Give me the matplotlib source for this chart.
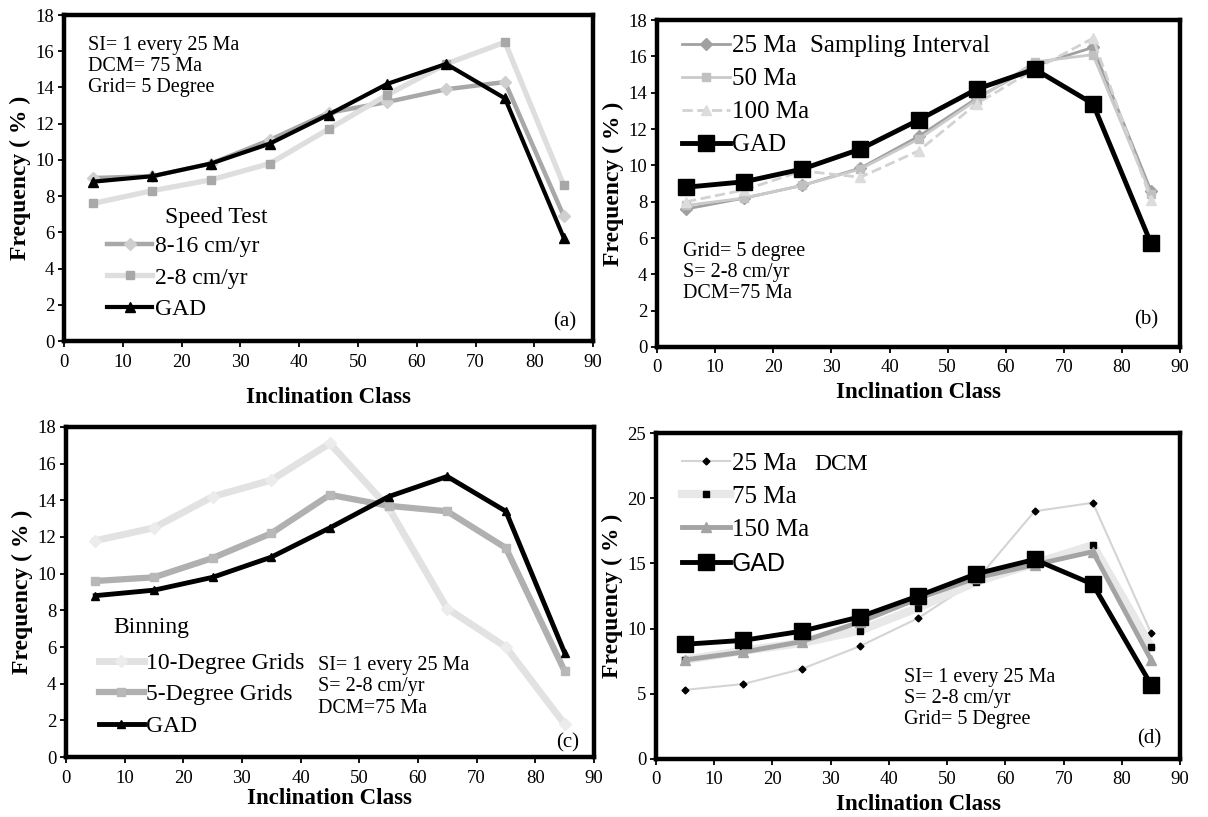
import matplotlib
matplotlib.use('Agg')
import matplotlib.pyplot as plt

plt.rcParams['font.family'] = 'serif'
plt.rcParams['font.serif'] = ['Liberation Serif', 'DejaVu Serif']

# inclination classes
x = [5, 15, 25, 35, 45, 55, 65, 75, 85]
gad = [8.8, 9.1, 9.8, 10.9, 12.5, 14.2, 15.3, 13.4, 5.7]

# (a) speed test
speed_8_16 = [9.0, 9.1, 9.8, 11.1, 12.6, 13.2, 13.9, 14.3, 6.9]
speed_2_8 = [7.6, 8.3, 8.9, 9.8, 11.7, 13.6, 15.3, 16.5, 8.6]

# (b) sampling interval
si_25 = [7.6, 8.2, 8.9, 9.85, 11.6, 13.7, 15.5, 16.5, 8.6]
si_50 = [7.8, 8.2, 8.9, 9.8, 11.45, 13.6, 15.7, 16.1, 8.4]
si_100 = [8.0, 8.65, 9.7, 9.35, 10.8, 13.4, 15.3, 17.0, 8.1]

# (c) binning
bin_10 = [11.8, 12.5, 14.2, 15.1, 17.1, 13.6, 8.1, 6.0, 1.8]
bin_5 = [9.6, 9.8, 10.85, 12.2, 14.3, 13.7, 13.4, 11.4, 4.7]

# (d) DCM
dcm_25 = [5.3, 5.75, 6.9, 8.65, 10.8, 13.7, 19.0, 19.65, 9.65]
dcm_75 = [7.6, 8.3, 8.9, 9.85, 11.6, 13.6, 15.0, 16.4, 8.6]
dcm_150 = [7.6, 8.2, 9.0, 10.5, 12.3, 13.9, 14.9, 15.9, 7.6]

fig = plt.figure(figsize=(12.08, 8.17), dpi=100)
ax_a = fig.add_axes([0.053, 0.5826, 0.438, 0.399])
ax_b = fig.add_axes([0.5439, 0.5753, 0.433, 0.400])
ax_c = fig.add_axes([0.0546, 0.0734, 0.437, 0.404])
ax_d = fig.add_axes([0.543, 0.071, 0.434, 0.399])


def style_axes(ax, ymax, ystep, xpad):
    ax.set_xlim(0, 90)
    ax.set_ylim(0, ymax)
    ax.set_xticks(range(0, 91, 10))
    ax.set_yticks(range(0, ymax + 1, ystep))
    for s in ax.spines.values():
        s.set_linewidth(3.2)
    ax.tick_params(direction='out', length=4, width=1.3, labelsize=13.5, pad=3)
    ax.tick_params(axis='x', pad=5)
    ax.set_xlabel('Inclination Class', fontsize=16.5, fontweight='bold', labelpad=xpad)
    ax.set_ylabel('Frequency ( % )', fontsize=17, fontweight='bold', labelpad=3)


def info(ax, xx, yy, lines, size=14.5):
    ax.text(xx, yy, '\n'.join(lines), transform=ax.transAxes, fontsize=size,
            va='top', ha='left', linespacing=1.15)


def legend(ax, anchor, loc, size):
    return ax.legend(loc=loc, bbox_to_anchor=anchor, frameon=False,
                     fontsize=size, handlelength=1.9, handletextpad=0.1,
                     labelspacing=0.42, borderpad=0, borderaxespad=0)


# ---- (a)
ax = ax_a
ax.plot(x, speed_8_16, color='#a8a8a8', lw=3.2, marker='D', ms=6,
        mfc='#cfcfcf', mec='#cfcfcf', label='8-16 cm/yr')
ax.plot(x, speed_2_8, color='#dedede', lw=3.8, marker='s', ms=6,
        mfc='#a8a8a8', mec='#a8a8a8', label='2-8 cm/yr')
ax.plot(x, gad, color='black', lw=3, marker='^', ms=7, label='GAD')
style_axes(ax, 18, 2, 12)
legend(ax, (0.082, 0.064), 'lower left', 17)
ax.text(0.19, 0.38, 'Speed Test', transform=ax.transAxes, fontsize=17,
        ha='left', va='center')
info(ax, 0.045, 0.935, ['SI= 1 every 25 Ma', 'DCM= 75 Ma', 'Grid= 5 Degree'])
ax.text(0.947, 0.058, '(a)', transform=ax.transAxes, fontsize=15, ha='center', va='center')

# ---- (b)
ax = ax_b
ax.plot(x, si_25, color='#a0a0a0', lw=2, marker='D', ms=6,
        mfc='#a0a0a0', mec='#a0a0a0', label='25 Ma')
ax.plot(x, si_50, color='#cacaca', lw=2, marker='s', ms=6,
        mfc='#c0c0c0', mec='#c0c0c0', label='50 Ma')
ax.plot(x, si_100, color='#d2d2d2', lw=2, ls='--', marker='^', ms=7,
        mfc='#dcdcdc', mec='#dcdcdc', label='100 Ma')
ax.plot(x, gad, color='black', lw=3.5, marker='s', ms=11, label='GAD')
style_axes(ax, 18, 2, 4)
legend(ax, (0.048, 0.955), 'upper left', 18)
ax.text(0.293, 0.922, 'Sampling Interval', transform=ax.transAxes, fontsize=18,
        ha='left', va='center')
info(ax, 0.05, 0.322, ['Grid= 5 degree', 'S= 2-8 cm/yr', 'DCM=75 Ma'])
ax.text(0.935, 0.083, '(b)', transform=ax.transAxes, fontsize=15, ha='center', va='center')

# ---- (c)
ax = ax_c
ax.plot(x, bin_10, color='#e2e2e2', lw=5, marker='D', ms=6,
        mfc='#ececec', mec='#ececec', label='10-Degree Grids')
ax.plot(x, bin_5, color='#b0b0b0', lw=4.5, marker='s', ms=6,
        mfc='#b8b8b8', mec='#b8b8b8', label='5-Degree Grids')
ax.plot(x, gad, color='black', lw=3.5, marker='^', ms=6, label='GAD')
style_axes(ax, 18, 2, 1)
legend(ax, (0.062, 0.061), 'lower left', 17)
ax.text(0.09, 0.392, 'Binning', transform=ax.transAxes, fontsize=17,
        ha='left', va='center')
info(ax, 0.478, 0.305, ['SI= 1 every 25 Ma', 'S= 2-8 cm/yr', 'DCM=75 Ma'])
ax.text(0.95, 0.043, '(c)', transform=ax.transAxes, fontsize=15, ha='center', va='center')

# ---- (d)
ax = ax_d
ax.plot(x, dcm_25, color='#d4d4d4', lw=1.5, marker='D', ms=3.5,
        mfc='black', mec='black', label='25 Ma')
ax.plot(x, dcm_75, color='#e8e8e8', lw=6, marker='s', ms=4.5,
        mfc='black', mec='black', label='75 Ma')
ax.plot(x, dcm_150, color='#a4a4a4', lw=3.5, marker='^', ms=7,
        mfc='#a4a4a4', mec='#a4a4a4', label='150 Ma')
ax.plot(x, gad, color='black', lw=3.5, marker='s', ms=11, label='GAD')
style_axes(ax, 25, 5, 4)
leg = legend(ax, (0.05, 0.94), 'upper left', 18)
leg.get_texts()[3].set_family(['Liberation Sans', 'DejaVu Sans'])
ax.text(0.303, 0.903, 'DCM', transform=ax.transAxes, fontsize=17,
        ha='left', va='center')
info(ax, 0.474, 0.28, ['SI= 1 every 25 Ma', 'S= 2-8 cm/yr', 'Grid= 5 Degree'])
ax.text(0.94, 0.063, '(d)', transform=ax.transAxes, fontsize=15, ha='center', va='center')

fig.savefig('out.png', dpi=100)
